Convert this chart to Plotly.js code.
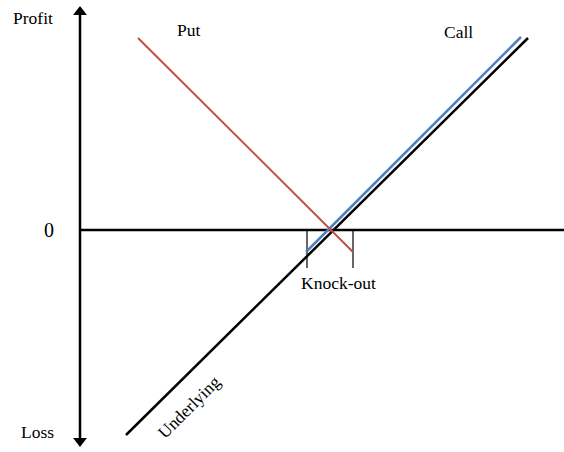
<!DOCTYPE html>
<html>
<head>
<meta charset="utf-8">
<script src="https://cdn.plot.ly/plotly-3.0.1.min.js"></script>
<style>html,body{margin:0;padding:0;background:#fff;}#chart{width:564px;height:452px;}</style>
</head>
<body>
<div id="chart"></div>
<script>
// Conceptual units: price along x, profit along y (0 = break-even line)
const underlyingPrice = [46, 448];
const underlyingProfit = [-205, 192];
const putPrice = [58, 273];
const putProfit = [192, -22];
const callPrice = [226, 441];
const callProfit = [-22, 193];
const knockOutPrices = [227, 273];
const knockOutDepth = [0, -38];
const zeroLinePrice = [0, 484];
const zeroLineProfit = [0, 0];
const axisPrice = [0, 0];
const axisProfit = [218, -211];
const labels = {profit: "Profit", loss: "Loss", zero: "0", put: "Put", call: "Call", knock: "Knock-out", underlying: "Underlying"};

const BLACK = "#000000", RED = "#c0504d", BLUE = "#4f81bd";
const font = {family: "'Liberation Serif', 'Times New Roman', 'DejaVu Serif', serif", size: 17.5, color: "#000"};

const traces = [
  {x: zeroLinePrice, y: zeroLineProfit, mode: "lines", line: {color: BLACK, width: 2.5}},
  {x: axisPrice, y: axisProfit, mode: "lines", line: {color: BLACK, width: 2.5}},
  {x: [axisPrice[0]], y: [axisProfit[0]], mode: "markers", marker: {symbol: "triangle-up", size: 12, color: BLACK}},
  {x: [axisPrice[1]], y: [axisProfit[1]], mode: "markers", marker: {symbol: "triangle-down", size: 12, color: BLACK}},
  {x: [knockOutPrices[0], knockOutPrices[0]], y: knockOutDepth, mode: "lines", line: {color: BLACK, width: 1.2}},
  {x: [knockOutPrices[1], knockOutPrices[1]], y: knockOutDepth, mode: "lines", line: {color: BLACK, width: 1.2}},
  {x: underlyingPrice, y: underlyingProfit, mode: "lines", line: {color: BLACK, width: 2.5}},
  {x: callPrice, y: callProfit, mode: "lines", line: {color: BLUE, width: 2.5}},
  {x: putPrice, y: putProfit, mode: "lines", line: {color: RED, width: 2}}
];

const ann = (x, y, text, extra) => Object.assign({x, y, xref: "x", yref: "y", text, showarrow: false, font}, extra || {});

const layout = {
  width: 564, height: 452,
  margin: {l: 0, r: 0, t: 0, b: 0},
  paper_bgcolor: "#fff", plot_bgcolor: "#fff",
  font: font,
  showlegend: false,
  xaxis: {range: [-80, 484], visible: false, fixedrange: true},
  yaxis: {range: [-222, 230], visible: false, fixedrange: true},
  annotations: [
    ann(-47, 212, labels.profit),
    ann(-43, -202, labels.loss),
    ann(-31, 0, labels.zero, {font: Object.assign({}, font, {size: 20})}),
    ann(108, 200, labels.put),
    ann(378, 198, labels.call),
    ann(258, -53, labels.knock),
    ann(109, -177, labels.underlying, {textangle: -45, font: Object.assign({}, font, {size: 17.5})})
  ]
};

Plotly.newPlot("chart", traces, layout, {displayModeBar: false, staticPlot: true});
</script>
</body>
</html>
